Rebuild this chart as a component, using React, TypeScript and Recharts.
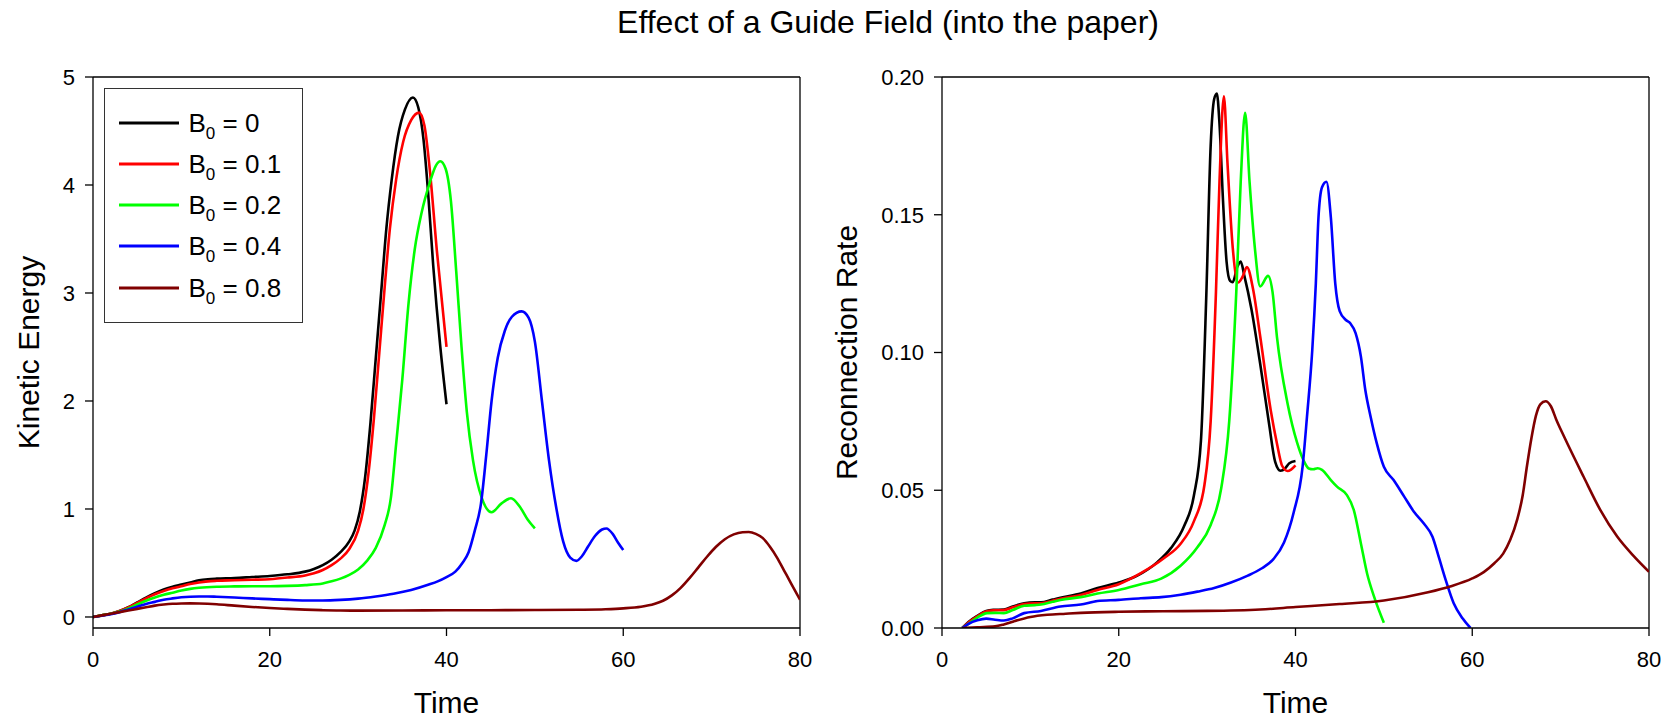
import React from 'react';
import { LineChart, Line, XAxis, YAxis, ReferenceLine, Legend } from 'recharts';

const FONT = '"Liberation Sans", Arial, Helvetica, sans-serif';

const TITLE = 'Effect of a Guide Field (into the paper)';
const SERIES_NAMES = ['0', '0.1', '0.2', '0.4', '0.8'];
const SERIES_COLORS = ['#000000', '#ff0000', '#00ff00', '#0000ff', '#800000'];

const X_TICKS = [0, 20, 40, 60, 80];
const KE_TICKS = [0, 1, 2, 3, 4, 5];
const RATE_TICKS = [0, 0.05, 0.1, 0.15, 0.2];

// ---------- Kinetic energy ----------
const KE_T_0 = [0, 1, 2, 3, 4, 5, 6, 7, 8, 9, 10, 11, 12, 13, 14, 16, 18, 20, 22, 24, 25, 26, 27, 28, 29, 29.6, 30.2, 30.8, 31.4, 32, 32.6, 33.2, 33.8, 34.5, 35.3, 36.2, 36.8, 37.4, 37.9, 38.5, 39.3, 40];
const KE_V_0 = [0, 0.015, 0.03, 0.055, 0.09, 0.135, 0.18, 0.22, 0.255, 0.28, 0.3, 0.32, 0.34, 0.35, 0.355, 0.36, 0.37, 0.38, 0.395, 0.42, 0.445, 0.48, 0.53, 0.6, 0.7, 0.8, 0.98, 1.3, 1.8, 2.4, 3.0, 3.6, 4.05, 4.45, 4.7, 4.81, 4.72, 4.42, 3.95, 3.25, 2.5, 1.97];

const KE_T_01 = [0, 1, 2, 3, 4, 5, 6, 7, 8, 9, 10, 11, 12, 13, 14, 16, 18, 20, 22, 24, 25, 26, 27, 28, 29, 30, 30.6, 31.2, 31.8, 32.4, 33, 33.6, 34.3, 35.1, 36, 36.9, 37.5, 38.1, 38.9, 40];
const KE_V_01 = [0, 0.015, 0.03, 0.055, 0.088, 0.13, 0.172, 0.21, 0.24, 0.265, 0.285, 0.305, 0.32, 0.33, 0.335, 0.34, 0.345, 0.35, 0.365, 0.385, 0.405, 0.435, 0.48, 0.54, 0.63, 0.8, 1.0, 1.35, 1.85, 2.45, 3.05, 3.6, 4.05, 4.4, 4.6, 4.67, 4.55, 4.15, 3.4, 2.5];

const KE_T_02 = [0, 1, 2, 3, 4, 5, 6, 7, 8, 9, 10, 11, 12, 14, 16, 18, 20, 22, 24, 26, 27, 28, 29, 30, 31, 32, 33, 33.7, 34.3, 35, 35.7, 36.4, 37.2, 38.1, 38.8, 39.3, 39.9, 40.5, 41.1, 41.7, 42.3, 43, 44, 45.1, 46.2, 47.3, 48.3, 49.2, 50];
const KE_V_02 = [0, 0.015, 0.03, 0.05, 0.08, 0.115, 0.15, 0.18, 0.205, 0.225, 0.245, 0.26, 0.27, 0.28, 0.283, 0.285, 0.285, 0.288, 0.295, 0.31, 0.33, 0.355, 0.39, 0.44, 0.52, 0.64, 0.85, 1.1, 1.6, 2.2, 2.9, 3.4, 3.75, 4.02, 4.18, 4.22, 4.15, 3.85, 3.2, 2.5, 1.9, 1.45, 1.1, 0.97, 1.05, 1.1, 1.02, 0.9, 0.82];

const KE_T_04 = [0, 1, 2, 3, 4, 5, 6, 7, 8, 9, 10, 11, 12, 13, 14, 16, 18, 20, 22, 24, 26, 28, 30, 32, 34, 36, 38, 39, 40, 41, 41.8, 42.5, 43.2, 43.9, 44.5, 45.1, 45.8, 46.6, 47.4, 48.5, 49.3, 50, 50.8, 51.6, 52.4, 53.2, 54, 54.7, 55.3, 56, 56.8, 57.6, 58.1, 58.8, 59.4, 60];
const KE_V_04 = [0, 0.012, 0.025, 0.045, 0.07, 0.095, 0.12, 0.14, 0.16, 0.172, 0.182, 0.188, 0.19, 0.19, 0.187, 0.18, 0.172, 0.165, 0.158, 0.153, 0.152, 0.158, 0.17, 0.19, 0.215, 0.25, 0.3, 0.33, 0.37, 0.42, 0.5, 0.6, 0.8, 1.05, 1.5, 2.0, 2.4, 2.65, 2.78, 2.83, 2.77, 2.55, 2.0, 1.45, 1.02, 0.7, 0.55, 0.52, 0.56, 0.65, 0.75, 0.81, 0.82, 0.77, 0.69, 0.62];

const KE_T_08 = [0, 1, 2, 3, 4, 5, 6, 7, 8, 9, 10, 11, 12, 14, 16, 18, 20, 22, 24, 26, 28, 30, 35, 40, 45, 50, 55, 58, 60, 62, 63.5, 64.5, 65.5, 66.5, 67.5, 68.5, 69.5, 70.5, 71.5, 72.5, 73.5, 74.2, 75, 75.8, 76.6, 77.4, 78.2, 79, 80];
const KE_V_08 = [0, 0.015, 0.03, 0.045, 0.06, 0.075, 0.09, 0.105, 0.115, 0.122, 0.125, 0.126, 0.125, 0.118, 0.105, 0.093, 0.083, 0.075, 0.068, 0.063, 0.06, 0.059, 0.06, 0.062, 0.063, 0.064, 0.067, 0.072, 0.08, 0.095, 0.12, 0.15, 0.2, 0.27, 0.36, 0.46, 0.56, 0.65, 0.72, 0.765, 0.785, 0.787, 0.77, 0.73, 0.65, 0.55, 0.43, 0.31, 0.16];

// ---------- Reconnection rate ----------
const RR_T_0 = [2.3, 3, 4, 5, 5.8, 7, 8, 9.3, 10.5, 11.2, 12.5, 13.4, 15.7, 17.6, 20, 22.1, 24.4, 25.9, 27.4, 28.5, 29.3, 29.9, 30.4, 30.8, 31.1, 31.4, 31.8, 32.2, 32.6, 32.9, 33.4, 33.8, 34.2, 35, 36, 37, 37.7, 38.3, 38.8, 39.3, 40];
const RR_V_0 = [0, 0.0022, 0.0044, 0.0062, 0.0066, 0.0067, 0.0078, 0.009, 0.0093, 0.0093, 0.0103, 0.011, 0.0125, 0.0145, 0.0165, 0.019, 0.024, 0.029, 0.037, 0.048, 0.068, 0.12, 0.175, 0.192, 0.194, 0.183, 0.155, 0.133, 0.126, 0.1255, 0.131, 0.133, 0.128, 0.116, 0.096, 0.0743, 0.0603, 0.0571, 0.0578, 0.0598, 0.0606];

const RR_T_01 = [2.3, 3, 4, 5, 5.8, 7, 8, 9.3, 10.5, 11.2, 12.5, 13.4, 15.7, 17.6, 20, 22.5, 25.1, 27, 28.5, 29.7, 30.4, 31, 31.4, 31.9, 32.3, 32.9, 33.5, 34, 34.5, 35.2, 36, 37.2, 37.9, 38.5, 39.1, 39.5, 40];
const RR_V_01 = [0, 0.002, 0.0042, 0.006, 0.0064, 0.0065, 0.0075, 0.0087, 0.009, 0.009, 0.0099, 0.0106, 0.012, 0.0138, 0.0159, 0.0199, 0.0253, 0.0306, 0.0387, 0.052, 0.075, 0.122, 0.162, 0.193, 0.169, 0.138, 0.1254, 0.1274, 0.131, 0.123, 0.106, 0.079, 0.067, 0.0588, 0.057, 0.0575, 0.059];

const RR_T_02 = [2.3, 3, 4, 5.1, 6, 7, 8, 9.3, 10.5, 11.2, 12.5, 13.4, 15.7, 17.6, 20, 22.5, 24.8, 27, 28.9, 30.4, 31.6, 32.5, 33.3, 33.8, 34.3, 34.8, 35.4, 36, 36.9, 37.4, 37.9, 39.1, 40.2, 40.9, 41.5, 42, 42.5, 43, 44, 44.7, 45.8, 46.6, 47.4, 48.1, 48.9, 50];
const RR_V_02 = [0, 0.0015, 0.0038, 0.0054, 0.0055, 0.0054, 0.0065, 0.0081, 0.0083, 0.0085, 0.0095, 0.0102, 0.0112, 0.0125, 0.0138, 0.0159, 0.0179, 0.0226, 0.0293, 0.0374, 0.0508, 0.075, 0.122, 0.162, 0.187, 0.162, 0.138, 0.124, 0.1278, 0.122, 0.1057, 0.0815, 0.0671, 0.0609, 0.0579, 0.0576, 0.058, 0.0574, 0.0537, 0.0513, 0.0483, 0.0428, 0.0307, 0.0198, 0.0113, 0.0019];

const RR_T_04 = [2.3, 3, 4, 5, 6, 7, 8, 9.3, 11.2, 13.4, 15.7, 17.6, 20, 22.5, 24.8, 27, 28.9, 30.8, 32.7, 34.6, 36.1, 37.5, 38.7, 39.8, 40.8, 41.3, 41.9, 42.3, 42.6, 43, 43.5, 44, 44.5, 45, 45.7, 46.2, 46.8, 47.4, 47.9, 48.5, 49.2, 50, 51.1, 52.3, 53.4, 54.5, 55.5, 56.2, 57, 57.9, 58.9, 59.8];
const RR_V_04 = [0, 0.0015, 0.0028, 0.0034, 0.003, 0.0027, 0.0035, 0.0054, 0.0062, 0.0078, 0.0085, 0.0098, 0.0102, 0.0108, 0.0112, 0.0121, 0.0132, 0.0145, 0.0165, 0.019, 0.0215, 0.025, 0.031, 0.042, 0.0585, 0.0767, 0.101, 0.125, 0.149, 0.16, 0.162, 0.149, 0.125, 0.115, 0.1118, 0.1106, 0.107, 0.0985, 0.0864, 0.0767, 0.067, 0.0585, 0.0537, 0.0477, 0.0422, 0.038, 0.0331, 0.0259, 0.0174, 0.009, 0.0035, 0];

const RR_T_08 = [2.3, 4, 6, 7, 8.1, 10, 11.9, 14, 15.7, 20, 25, 30, 36, 40, 45, 50, 55, 57.5, 60, 61.3, 62.5, 63.5, 64.3, 65.1, 65.7, 66.2, 66.7, 67.2, 67.7, 68.3, 68.9, 69.5, 70.4, 72.6, 74.5, 76.4, 78.3, 80];
const RR_V_08 = [0, 0.0003, 0.0006, 0.0013, 0.0024, 0.004, 0.0048, 0.0052, 0.0055, 0.0059, 0.0061, 0.0062, 0.0067, 0.0076, 0.0087, 0.01, 0.013, 0.0151, 0.018, 0.0203, 0.0235, 0.027, 0.032, 0.0395, 0.048, 0.059, 0.069, 0.077, 0.0812, 0.0823, 0.0805, 0.0757, 0.0694, 0.0549, 0.0428, 0.0332, 0.026, 0.0204];

const zip = (t: number[], v: number[]) => t.map((x, i) => ({ t: x, v: v[i] }));

const KE_DATA = [zip(KE_T_0, KE_V_0), zip(KE_T_01, KE_V_01), zip(KE_T_02, KE_V_02), zip(KE_T_04, KE_V_04), zip(KE_T_08, KE_V_08)];
const RR_DATA = [zip(RR_T_0, RR_V_0), zip(RR_T_01, RR_V_01), zip(RR_T_02, RR_V_02), zip(RR_T_04, RR_V_04), zip(RR_T_08, RR_V_08)];

const AXIS_STROKE = { stroke: '#000', strokeWidth: 1.3 };
const TICK_STYLE = { fontSize: 22, fill: '#000', fontFamily: FONT };

const xTitle = (text: string) => (props: any) => {
  const vb = props.viewBox || {};
  return (
    <text x={vb.x + vb.width / 2} y={vb.y + 85} textAnchor="middle" fontSize={30} fontFamily={FONT} fill="#000">
      {text}
    </text>
  );
};

const yTitle = (text: string, dx: number) => (props: any) => {
  const vb = props.viewBox || {};
  const bx = vb.x + dx;
  const cy = vb.y + vb.height / 2;
  return (
    <text transform={`translate(${bx}, ${cy}) rotate(-90)`} x={0} y={0} textAnchor="middle" fontSize={30} fontFamily={FONT} fill="#000">
      {text}
    </text>
  );
};

const LegendBox = (props: any) => {
  const payload = props.payload || [];
  return (
    <div
      style={{
        width: 199,
        height: 235,
        border: '1.5px solid #333',
        boxSizing: 'border-box',
        background: '#fff',
        paddingTop: 13,
        fontFamily: FONT,
      }}
    >
      {payload.map((p: any, i: number) => (
        <div key={i} style={{ display: 'flex', alignItems: 'center', height: 41.25 }}>
          <svg width={60} height={6} style={{ marginLeft: 13.5, display: 'block' }}>
            <line x1={0} y1={3} x2={60} y2={3} stroke={p.color} strokeWidth={3} />
          </svg>
          <span style={{ marginLeft: 10, fontSize: 26, lineHeight: '26px', color: '#000', whiteSpace: 'nowrap' }}>
            B<sub style={{ fontSize: 17, verticalAlign: '-7px', lineHeight: 0 }}>0</sub> = {p.value}
          </span>
        </div>
      ))}
    </div>
  );
};

export default function App() {
  return (
    <div style={{ position: 'absolute', left: 0, top: 0, width: 1675, height: 721, background: '#fff', overflow: 'hidden' }}>
      <div
        style={{
          position: 'absolute',
          left: 488,
          top: 6,
          width: 800,
          textAlign: 'center',
          fontFamily: FONT,
          fontSize: 32,
          lineHeight: '32px',
          color: '#000',
          whiteSpace: 'nowrap',
        }}
      >
        {TITLE}
      </div>

      <div style={{ position: 'absolute', left: 0, top: 0 }}>
        <LineChart width={837} height={721} margin={{ top: 77, right: 37, bottom: 0, left: 33 }}>
          <XAxis
            type="number"
            dataKey="t"
            domain={[0, 80]}
            ticks={X_TICKS}
            allowDataOverflow
            height={93}
            tickSize={8}
            tickMargin={15}
            axisLine={AXIS_STROKE}
            tickLine={AXIS_STROKE}
            tick={TICK_STYLE}
            label={xTitle('Time')}
          />
          <YAxis
            type="number"
            dataKey="v"
            domain={[-0.102, 5]}
            ticks={KE_TICKS}
            allowDataOverflow
            width={60}
            tickSize={8}
            tickMargin={10}
            axisLine={AXIS_STROKE}
            tickLine={AXIS_STROKE}
            tick={TICK_STYLE}
            label={yTitle('Kinetic Energy', 5.5)}
          />
          <ReferenceLine y={5} stroke="#000" strokeWidth={1.3} />
          <ReferenceLine x={80} stroke="#000" strokeWidth={1.3} />
          {KE_DATA.map((d, i) => (
            <Line
              key={SERIES_NAMES[i]}
              data={d}
              dataKey="v"
              name={SERIES_NAMES[i]}
              type="monotone"
              stroke={SERIES_COLORS[i]}
              strokeWidth={2.6}
              dot={false}
              activeDot={false}
              isAnimationActive={false}
            />
          ))}
          <Legend
            layout="vertical"
            align="center"
            verticalAlign="middle"
            content={<LegendBox />}
            wrapperStyle={{ left: 104, top: 88, width: 199, height: 235 }}
          />
        </LineChart>
      </div>

      <div style={{ position: 'absolute', left: 815, top: 0 }}>
        <LineChart width={860} height={721} margin={{ top: 77, right: 26, bottom: 0, left: 47 }}>
          <XAxis
            type="number"
            dataKey="t"
            domain={[0, 80]}
            ticks={X_TICKS}
            allowDataOverflow
            height={93}
            tickSize={8}
            tickMargin={15}
            axisLine={AXIS_STROKE}
            tickLine={AXIS_STROKE}
            tick={TICK_STYLE}
            label={xTitle('Time')}
          />
          <YAxis
            type="number"
            dataKey="v"
            domain={[0, 0.2]}
            ticks={RATE_TICKS}
            allowDataOverflow
            width={80}
            tickSize={8}
            tickMargin={10}
            tickFormatter={(v: number) => v.toFixed(2)}
            axisLine={AXIS_STROKE}
            tickLine={AXIS_STROKE}
            tick={TICK_STYLE}
            label={yTitle('Reconnection Rate', -5)}
          />
          <ReferenceLine y={0.2} stroke="#000" strokeWidth={1.3} />
          <ReferenceLine x={80} stroke="#000" strokeWidth={1.3} />
          {RR_DATA.map((d, i) => (
            <Line
              key={SERIES_NAMES[i]}
              data={d}
              dataKey="v"
              name={SERIES_NAMES[i]}
              type="monotone"
              stroke={SERIES_COLORS[i]}
              strokeWidth={2.6}
              dot={false}
              activeDot={false}
              isAnimationActive={false}
            />
          ))}
        </LineChart>
      </div>
    </div>
  );
}
